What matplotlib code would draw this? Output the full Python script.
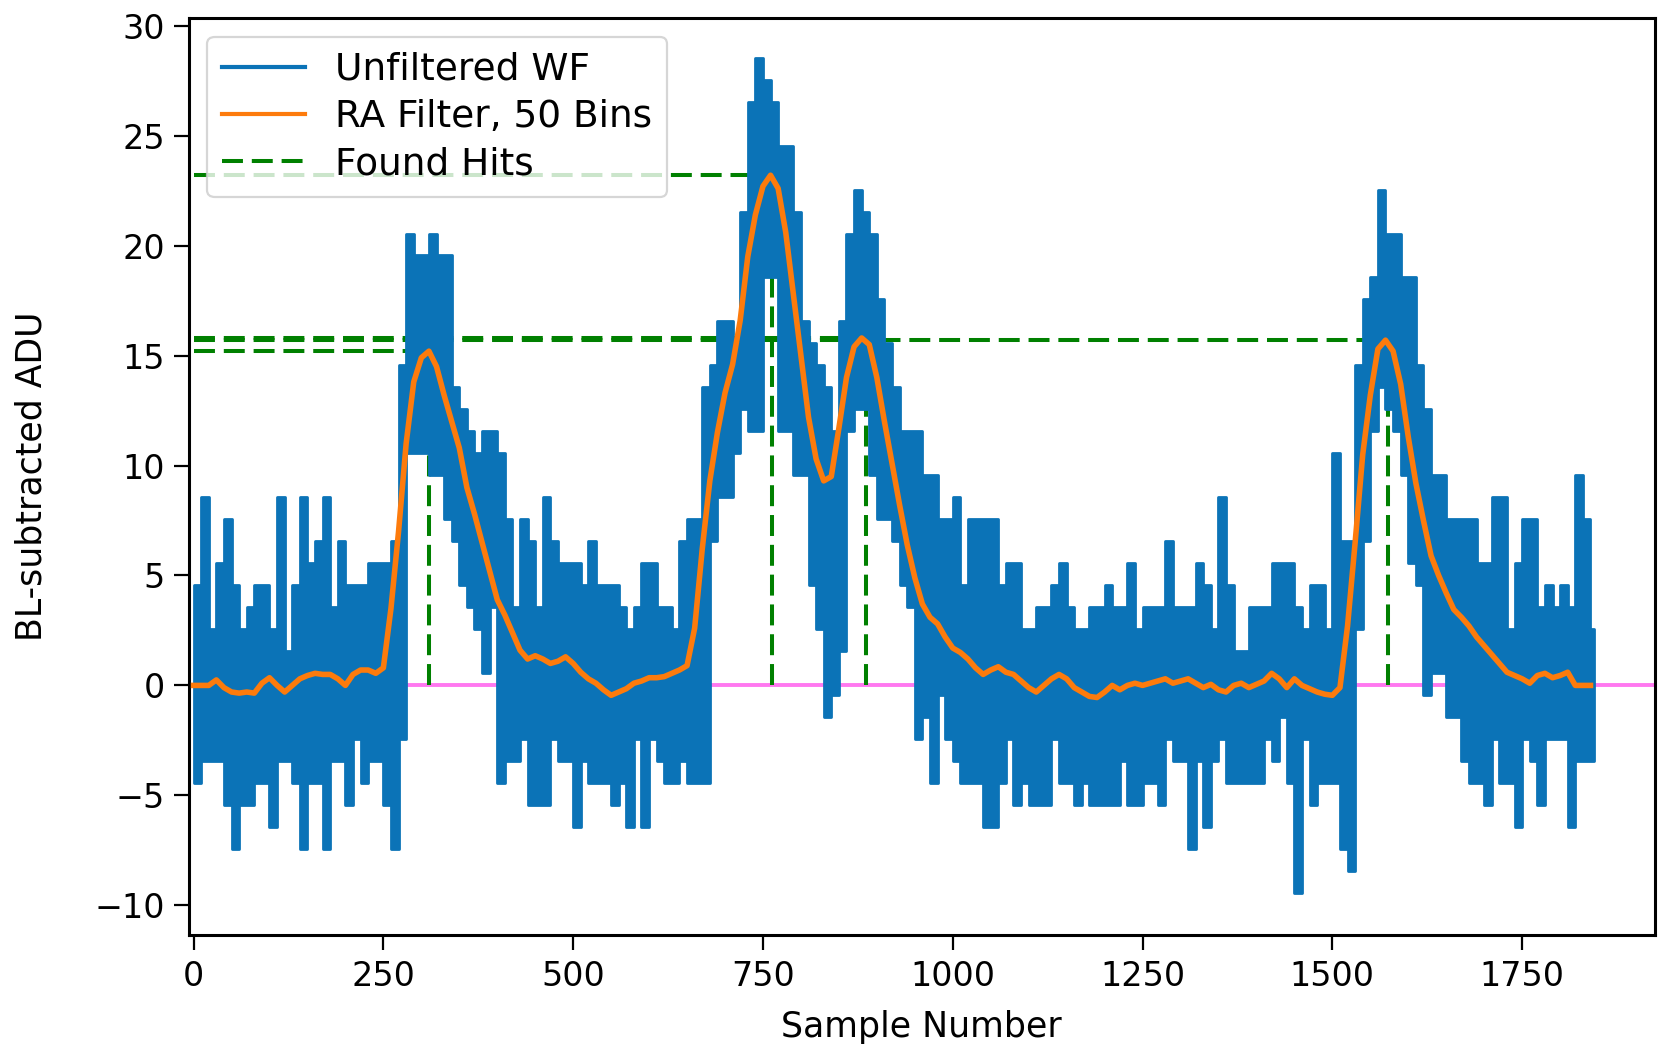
import numpy as np
import matplotlib
matplotlib.use("Agg")
import matplotlib.pyplot as plt
from matplotlib.lines import Line2D

# Unfiltered waveform, raw ADU: upper / lower extent in each 10-sample bin
wf_hi = [
    5, 9, 3, 6, 8, 5, 3, 4, 5, 5,
    3, 9, 2, 5, 9, 6, 7, 9, 4, 7,
    5, 5, 5, 6, 6, 6, 7, 15, 21, 20,
    20, 21, 20, 20, 14, 13, 12, 11, 12, 12,
    11, 8, 4, 8, 7, 4, 9, 7, 6, 6,
    6, 5, 7, 5, 5, 5, 4, 3, 4, 6,
    6, 4, 4, 3, 7, 8, 8, 14, 15, 17,
    17, 16, 22, 27, 29, 28, 27, 25, 25, 22,
    17, 16, 15, 14, 12, 17, 21, 23, 22, 21,
    18, 16, 14, 12, 12, 12, 10, 10, 8, 8,
    9, 5, 8, 8, 8, 8, 5, 6, 6, 3,
    3, 4, 4, 5, 6, 4, 3, 3, 4, 4,
    5, 4, 4, 6, 3, 4, 4, 4, 7, 4,
    4, 4, 6, 5, 3, 9, 5, 2, 2, 4,
    4, 4, 6, 6, 6, 4, 3, 5, 5, 3,
    11, 7, 7, 15, 18, 19, 23, 21, 21, 19,
    19, 15, 13, 10, 10, 8, 8, 8, 8, 6,
    6, 9, 9, 3, 6, 8, 8, 4, 5, 4,
    5, 4, 10, 8, 3,
]
wf_lo = [
    -4, -3, -3, -3, -5, -7, -5, -5, -4, -4,
    -6, -3, -3, -4, -7, -4, -4, -7, -3, -3,
    -5, -2, -4, -3, -3, -5, -7, -2, 11, 11,
    11, 10, 10, 8, 7, 5, 4, 3, 1, 4,
    -4, -3, -3, -2, -5, -5, -5, -2, -3, -3,
    -6, -3, -4, -4, -4, -5, -4, -6, -2, -6,
    -2, -3, -4, -4, -3, -4, -4, -4, 7, 9,
    9, 11, 13, 12, 12, 19, 19, 12, 12, 10,
    10, 5, 3, -1, 0, 2, 12, 13, 13, 10,
    8, 8, 7, 5, 4, -2, -1, -4, 0, -2,
    -3, -4, -4, -4, -6, -6, -4, -2, -5, -4,
    -5, -5, -5, -2, -4, -4, -5, -4, -5, -5,
    -5, -5, -3, -5, -5, -4, -4, -5, -2, -3,
    -3, -7, -3, -6, -3, -2, -4, -4, -4, -4,
    -4, -2, -3, -1, -4, -9, -2, -5, -4, -4,
    -4, -7, -8, 3, 7, 12, 14, 13, 12, 10,
    6, 5, 0, 1, 1, -1, -1, -3, -4, -4,
    -5, -2, -4, -4, -6, -2, -3, -5, -2, -2,
    -2, -6, -3, -3, -3,
]
baseline = 0.45
bin_width = 10
last_sample = 1845

# Running-average filter (50 bins), sampled every 10 samples from 0 to 1840
ra_filtered = [
    0.0, 0.0, 0.0, 0.25, -0.1, -0.3, -0.35, -0.3, -0.35, 0.1,
    0.35, 0.0, -0.3, 0.0, 0.3, 0.45, 0.55, 0.5, 0.5, 0.3,
    0.0, 0.5, 0.7, 0.7, 0.55, 0.8, 3.5, 7.0, 11.0, 13.8,
    14.9, 15.2, 14.5, 13.2, 12.0, 10.8, 9.0, 7.8, 6.5, 5.2,
    3.9, 3.2, 2.4, 1.6, 1.2, 1.35, 1.2, 1.0, 1.1, 1.3,
    1.0, 0.6, 0.3, 0.1, -0.2, -0.45, -0.3, -0.15, 0.1, 0.2,
    0.35, 0.35, 0.4, 0.55, 0.7, 0.9, 2.6, 6.2, 9.3, 11.5,
    13.3, 14.6, 16.6, 19.5, 21.4, 22.7, 23.2, 22.6, 20.6, 17.8,
    15.0, 12.2, 10.3, 9.3, 9.5, 11.7, 14.0, 15.4, 15.8, 15.5,
    14.0, 12.0, 10.1, 8.2, 6.4, 4.9, 3.7, 3.1, 2.8, 2.2,
    1.7, 1.5, 1.2, 0.8, 0.5, 0.7, 0.85, 0.6, 0.5, 0.2,
    -0.1, -0.3, 0.0, 0.3, 0.5, 0.3, -0.1, -0.3, -0.5, -0.55,
    -0.3, 0.0, -0.2, 0.0, 0.1, 0.0, 0.1, 0.2, 0.3, 0.1,
    0.2, 0.3, 0.1, -0.1, 0.05, -0.2, -0.3, 0.0, 0.1, -0.1,
    0.05, 0.2, 0.55, 0.3, -0.1, 0.3, 0.0, -0.15, -0.3, -0.4,
    -0.45, -0.1, 2.7, 6.5, 10.5, 13.2, 15.3, 15.7, 15.2, 13.7,
    11.3, 9.2, 7.5, 5.9, 5.0, 4.2, 3.45, 3.1, 2.7, 2.2,
    1.8, 1.4, 1.0, 0.6, 0.45, 0.3, 0.1, 0.45, 0.55, 0.35,
    0.45, 0.6, 0.0, 0.0, 0.0,
]

# Hits found on the filtered trace
hit_samples = [310, 762, 886, 1573]
hit_heights = [15.2, 23.2, 15.8, 15.7]

blue = "#0b73b7"
orange = "#fd7b0c"
green = "#008000"
pink = "#ff78f0"

# Raw trace as a stepped band between the per-bin extremes
edges = np.append(np.arange(len(wf_hi)) * bin_width, last_sample)
hi = np.append(wf_hi, wf_hi[-1]) - baseline
lo = np.append(wf_lo, wf_lo[-1]) - baseline
x_ra = np.arange(len(ra_filtered)) * bin_width

fig = plt.figure(figsize=(16.65, 10.52), dpi=100)
ax = fig.add_axes([0.1133, 0.1112, 0.8807, 0.8717])

ax.axhline(0, color=pink, lw=2.8, zorder=1)
dash = (0, (5.2, 2.2))
ax.hlines(hit_heights, 0, hit_samples, colors=green, linestyles=dash,
          lw=2.9, zorder=1.5)
ax.vlines(hit_samples, 0, hit_heights, colors=green, linestyles=dash,
          lw=2.9, zorder=1.5)
ax.fill_between(edges, hi, lo, step="post", facecolor=blue,
                edgecolor=blue, lw=2.0, zorder=2)
ax.plot(x_ra, ra_filtered, color=orange, lw=4.0, zorder=3,
        solid_joinstyle="round")

ax.set_xlim(-6.5, 1925)
ax.set_ylim(-11.35, 30.35)
ax.set_xticks(np.arange(0, 1751, 250))
ax.set_yticks(np.arange(-10, 31, 5))

ax.tick_params(labelsize=24, length=11, width=1.6)
ax.tick_params(axis="x", pad=7)
ax.tick_params(axis="y", pad=6)
for sp in ax.spines.values():
    sp.set_linewidth(2.2)

ax.set_xlabel("Sample Number", fontsize=25, va="top")
ax.xaxis.set_label_coords(0.5, -0.0818)
ax.set_ylabel("BL-subtracted ADU", fontsize=25)
ax.yaxis.set_label_coords(-0.0953, 0.5)

handles = [
    Line2D([], [], color=blue, lw=3.0),
    Line2D([], [], color=orange, lw=3.0),
    Line2D([], [], color=green, lw=2.9, linestyle=(0, (5.2, 2.2))),
]
labels = ["Unfiltered WF", "RA Filter, 50 Bins", "Found Hits"]
leg = ax.legend(handles, labels, loc="upper left", fontsize=27,
                handlelength=2.2, handletextpad=0.8, borderpad=0.4,
                labelspacing=0.3, framealpha=0.8)
leg.get_frame().set_edgecolor("0.8")
leg.get_frame().set_linewidth(1.6)

fig.savefig("out.png", dpi=100)
